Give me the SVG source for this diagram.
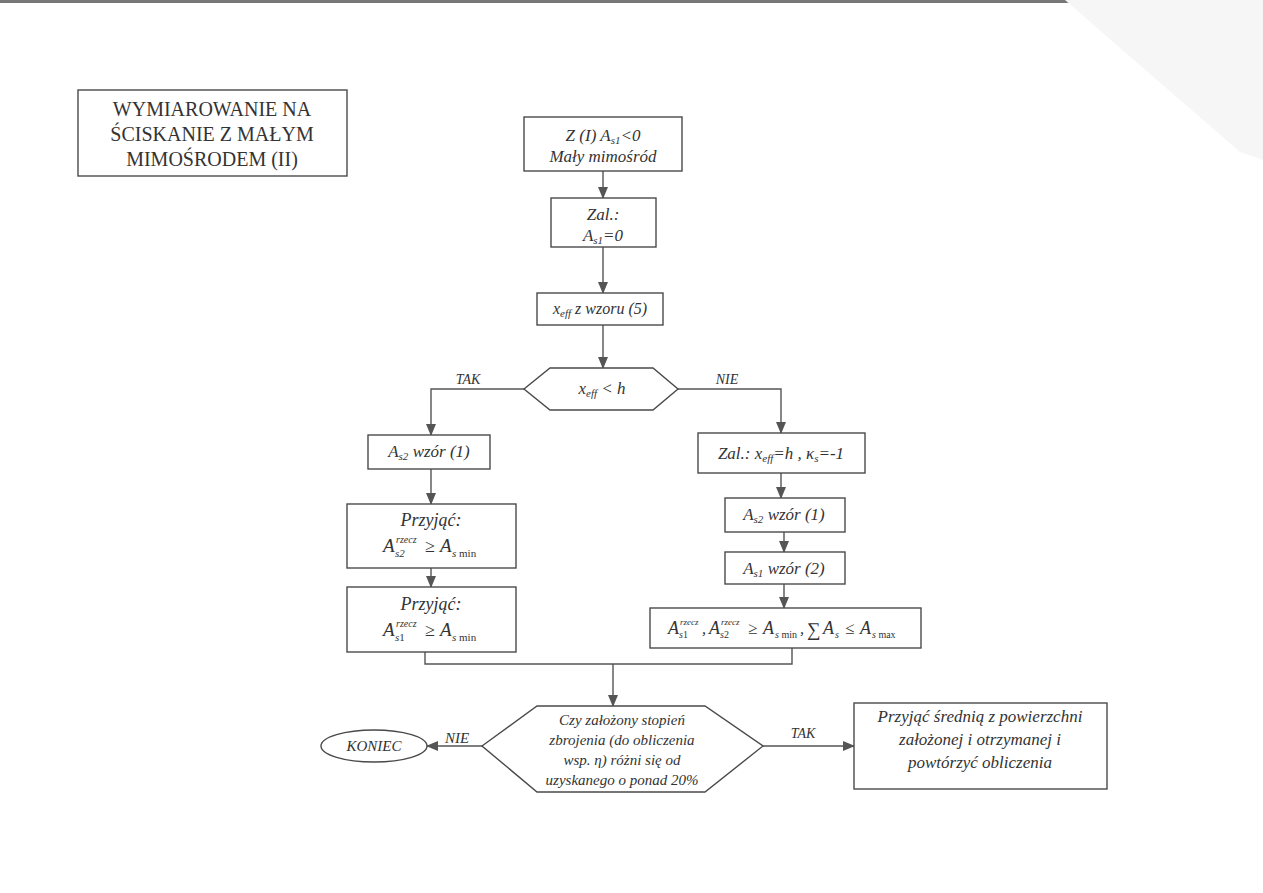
<svg xmlns="http://www.w3.org/2000/svg" width="1263" height="893" viewBox="0 0 1263 893">
<defs>
<style>
.b{fill:#fff;stroke:#4a4a4a;stroke-width:1.4}
.c{fill:none;stroke:#555;stroke-width:1.4}
.t{font-family:"Liberation Serif","Times New Roman",serif;font-style:italic;fill:#333}
.u{font-family:"Liberation Serif","Times New Roman",serif;fill:#333}
.m{text-anchor:middle}
.ss{font-size:11px}
</style>
<marker id="ah" markerWidth="12" markerHeight="10" refX="11" refY="5" orient="auto" markerUnits="userSpaceOnUse">
<path d="M0,0 L12,5 L0,10 z" fill="#555"/>
</marker>
</defs>
<rect width="1263" height="893" fill="#fff"/>
<rect x="0" y="0" width="1263" height="3" fill="#777"/>
<polygon points="1065,0 1263,0 1263,160 1240,152" fill="#f6f6f6"/>

<g id="title">
<rect class="b" x="78" y="90" width="269" height="86"/>
<text class="u m" x="212" y="116" font-size="20">WYMIAROWANIE  NA</text>
<text class="u m" x="212" y="141" font-size="20">ŚCISKANIE Z  MAŁYM</text>
<text class="u m" x="212" y="166" font-size="20">MIMOŚRODEM (II)</text>
</g>

<g id="connectors">
<line class="c" x1="603" y1="171" x2="603" y2="198" marker-end="url(#ah)"/>
<line class="c" x1="603" y1="247" x2="603" y2="293" marker-end="url(#ah)"/>
<line class="c" x1="603" y1="325" x2="603" y2="368" marker-end="url(#ah)"/>
<polyline class="c" points="524,389 431,389 431,435" marker-end="url(#ah)"/>
<polyline class="c" points="678,389 781,389 781,433" marker-end="url(#ah)"/>
<line class="c" x1="431" y1="469" x2="431" y2="504" marker-end="url(#ah)"/>
<line class="c" x1="431" y1="568" x2="431" y2="587" marker-end="url(#ah)"/>
<line class="c" x1="781" y1="473" x2="781" y2="498" marker-end="url(#ah)"/>
<line class="c" x1="784" y1="532" x2="784" y2="552" marker-end="url(#ah)"/>
<line class="c" x1="784" y1="584" x2="784" y2="608" marker-end="url(#ah)"/>
<polyline class="c" points="425,652 425,664 792,664 792,648"/>
<line class="c" x1="613" y1="664" x2="613" y2="706" marker-end="url(#ah)"/>
<line class="c" x1="482" y1="746" x2="427" y2="746" marker-end="url(#ah)"/>
<line class="c" x1="763" y1="746" x2="854" y2="746" marker-end="url(#ah)"/>
<text class="t m" x="468" y="384" font-size="14">TAK</text>
<text class="t m" x="727" y="384" font-size="14">NIE</text>
<text class="t m" x="457" y="743" font-size="15">NIE</text>
<text class="t m" x="803" y="738" font-size="14">TAK</text>
</g>

<g id="start">
<rect class="b" x="524" y="117" width="158" height="54"/>
<text class="t m" x="603" y="141" font-size="17">Z (I) A<tspan class="ss" dy="3">s1</tspan><tspan dy="-3">&lt;0</tspan></text>
<text class="t m" x="603" y="162" font-size="17">Mały mimośród</text>
</g>

<g id="zal1">
<rect class="b" x="551" y="198" width="105" height="49"/>
<text class="t m" x="603" y="220" font-size="17">Zal.:</text>
<text class="t m" x="603" y="241" font-size="17">A<tspan class="ss" dy="3">s1</tspan><tspan dy="-3">=0</tspan></text>
</g>

<g id="xeff">
<rect class="b" x="537" y="293" width="126" height="32"/>
<text class="t m" x="600" y="314" font-size="16">x<tspan class="ss" dy="3">eff</tspan><tspan dy="-3"> z wzoru (5)</tspan></text>
</g>

<g id="dec1">
<polygon class="b" points="524,389 550,368 653,368 678,389 653,410 550,410"/>
<text class="t m" x="602" y="394" font-size="17">x<tspan class="ss" dy="3">eff</tspan><tspan dy="-3"> &lt; h</tspan></text>
</g>

<g id="as2left">
<rect class="b" x="368" y="435" width="122" height="34"/>
<text class="t m" x="429" y="457" font-size="17">A<tspan class="ss" dy="3">s2</tspan><tspan dy="-3"> wzór (1)</tspan></text>
</g>

<g id="przyjac1">
<rect class="b" x="347" y="504" width="169" height="64"/>
<text class="t m" x="431" y="526" font-size="18">Przyjąć:</text>
<text class="t" x="383" y="552" font-size="19">A</text>
<text class="t" x="396" y="543" font-size="10">rzecz</text>
<text class="t" x="395" y="557" font-size="11">s2</text>
<text class="u" x="425" y="552" font-size="18">≥</text>
<text class="t" x="440" y="552" font-size="19">A</text>
<text class="t" x="452" y="557" font-size="11">s<tspan font-style="normal"> min</tspan></text>
</g>

<g id="przyjac2">
<rect class="b" x="347" y="587" width="169" height="65"/>
<text class="t m" x="431" y="610" font-size="18">Przyjąć:</text>
<text class="t" x="383" y="636" font-size="19">A</text>
<text class="t" x="396" y="627" font-size="10">rzecz</text>
<text class="t" x="395" y="641" font-size="11">s<tspan font-style="normal">1</tspan></text>
<text class="u" x="425" y="636" font-size="18">≥</text>
<text class="t" x="440" y="636" font-size="19">A</text>
<text class="t" x="452" y="641" font-size="11">s<tspan font-style="normal"> min</tspan></text>
</g>

<g id="zal2">
<rect class="b" x="698" y="433" width="167" height="40"/>
<text class="t m" x="781" y="459" font-size="17">Zal.: x<tspan class="ss" dy="3">eff</tspan><tspan dy="-3">=h , κ</tspan><tspan class="ss" dy="3">s</tspan><tspan dy="-3">=-1</tspan></text>
</g>

<g id="as2right">
<rect class="b" x="725" y="498" width="120" height="34"/>
<text class="t m" x="784" y="520" font-size="17">A<tspan class="ss" dy="3">s2</tspan><tspan dy="-3"> wzór (1)</tspan></text>
</g>

<g id="as1right">
<rect class="b" x="725" y="552" width="120" height="32"/>
<text class="t m" x="784" y="574" font-size="17">A<tspan class="ss" dy="3">s1</tspan><tspan dy="-3"> wzór (2)</tspan></text>
</g>

<g id="check">
<rect class="b" x="650" y="608" width="271" height="40"/>
<text class="t" x="668" y="634" font-size="18">A</text>
<text class="t" x="680" y="625" font-size="9">rzecz</text>
<text class="t" x="679" y="638" font-size="10">s<tspan font-style="normal">1</tspan></text>
<text class="t" x="702" y="634" font-size="16">,</text>
<text class="t" x="709" y="634" font-size="18">A</text>
<text class="t" x="721" y="625" font-size="9">rzecz</text>
<text class="t" x="720" y="638" font-size="10">s<tspan font-style="normal">2</tspan></text>
<text class="u" x="748" y="634" font-size="17">≥</text>
<text class="t" x="763" y="634" font-size="18">A</text>
<text class="t" x="775" y="638" font-size="10">s<tspan font-style="normal"> min</tspan></text>
<text class="t" x="800" y="634" font-size="16">,</text>
<text class="u" x="807" y="636" font-size="19">∑</text>
<text class="t" x="823" y="634" font-size="18">A</text>
<text class="t" x="835" y="638" font-size="10">s</text>
<text class="u" x="845" y="634" font-size="17">≤</text>
<text class="t" x="860" y="634" font-size="18">A</text>
<text class="t" x="872" y="638" font-size="10">s<tspan font-style="normal"> max</tspan></text>
</g>

<g id="dec2">
<polygon class="b" points="482,746 537,706 705,706 763,746 705,792 537,792"/>
<text class="t m" x="622" y="725" font-size="15">Czy założony stopień</text>
<text class="t m" x="622" y="745" font-size="15">zbrojenia (do obliczenia</text>
<text class="t m" x="622" y="765" font-size="15">wsp. η) różni się od</text>
<text class="t m" x="622" y="785" font-size="15">uzyskanego o ponad 20%</text>
</g>

<g id="koniec">
<ellipse class="b" cx="374" cy="746" rx="53" ry="16"/>
<text class="t m" x="374" y="751" font-size="15">KONIEC</text>
</g>

<g id="srednia">
<rect class="b" x="854" y="703" width="253" height="86"/>
<text class="t m" x="980" y="722" font-size="17">Przyjąć średnią z powierzchni</text>
<text class="t m" x="980" y="745" font-size="17">założonej i otrzymanej i</text>
<text class="t m" x="980" y="768" font-size="17">powtórzyć obliczenia</text>
</g>
</svg>
